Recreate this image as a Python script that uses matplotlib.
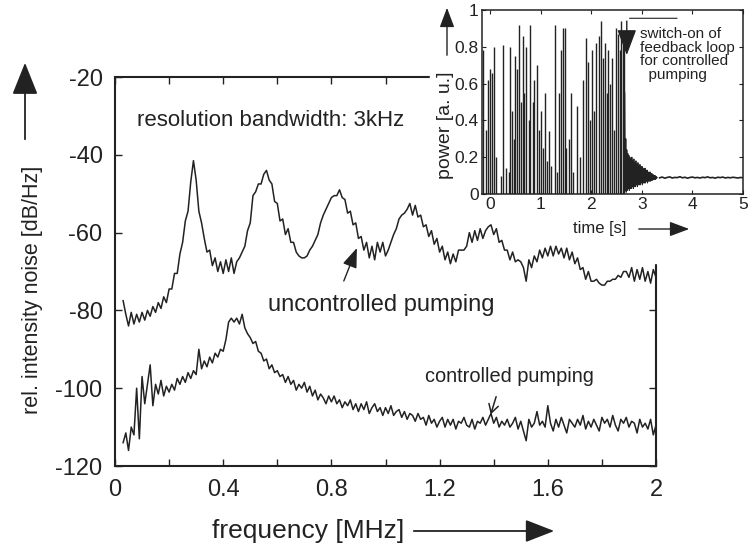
import numpy as np
import matplotlib
matplotlib.use("Agg")
import matplotlib.pyplot as plt
from matplotlib.patches import Rectangle, FancyArrowPatch

plt.rcParams['font.family'] = ['Liberation Sans', 'DejaVu Sans']
plt.rcParams['axes.unicode_minus'] = False

# ---- main spectrum, 10 kHz steps from 0.03 to 2.00 MHz
freq_mhz = np.round(np.arange(3, 201) / 100, 2)

uncontrolled_db = np.array([
    -77.5, -81, -84, -80.5, -83.5, -81, -83,                              # 0.03-0.09
    -80.5, -82.5, -80, -81.5, -79, -80.5, -78, -79.5, -76.5, -78,         # 0.10
    -74.5, -74.5, -70.5, -70.5, -65.5, -62.5, -57, -54.5, -47, -41.5,     # 0.20
    -46.5, -54.5, -57.5, -61.5, -65, -64.5, -68.5, -66.5, -70, -67.5,     # 0.30
    -70.5, -67, -70, -66.5, -70.5, -67.5, -66.5, -65, -63.5, -59.5,       # 0.40
    -57.5, -50.5, -49.5, -47.5, -47.5, -45, -44, -46.5, -47.5, -52,       # 0.50
    -52.5, -57, -56.5, -60.5, -59, -62.5, -62.5, -65, -66, -66.5,         # 0.60
    -66.5, -66, -64.5, -63.5, -62, -60.5, -57.5, -55.5, -54, -52.5,       # 0.70
    -51, -50.5, -50.5, -49, -51, -51.5, -55, -54.5, -58, -57.5,           # 0.80
    -61.5, -61, -64.5, -62.5, -66.5, -63.5, -67, -62.5, -65, -62.5,       # 0.90
    -66, -64.5, -62.5, -60.5, -59, -56.5, -55.5, -55, -54, -52.5,         # 1.00
    -55.5, -53, -56, -55.5, -58.5, -58, -61, -59.5, -63, -61.5,           # 1.10
    -65, -63.5, -67, -65, -68, -65.5, -67.5, -64.5, -64.5, -64.5,         # 1.20
    -63.5, -60, -62.5, -59.5, -62, -59, -61.5, -59.5, -58.5, -58,         # 1.30
    -60.5, -59, -62.5, -62, -64.5, -64.5, -67, -65, -67.5, -67,           # 1.40
    -67.5, -69, -72.5, -67, -69, -66, -67.5, -64.5, -66.5, -64,           # 1.50
    -66, -63.5, -66, -63.5, -65.5, -64, -66.5, -64, -67, -65,             # 1.60
    -68, -66.5, -69.5, -69, -72, -70, -72.5, -72.5, -72, -73,             # 1.70
    -73.5, -73.5, -72.5, -72.5, -72, -72, -71, -71.5, -70, -70,           # 1.80
    -71.5, -69, -72.5, -69.5, -72, -69, -72.5, -70, -73, -69.5,           # 1.90
    -71.5,                                                                # 2.00
])

controlled_db = np.array([
    -114, -111.5, -116, -110, -112, -100, -113,                           # 0.03-0.09
    -97, -104, -99, -94, -104.5, -99, -101.5, -98, -102, -99.5,           # 0.10
    -101, -99, -100.5, -97.5, -99, -97, -98.5, -96, -97.5, -95.5,         # 0.20
    -96.5, -90, -95, -93, -94.5, -92, -93.5, -91, -92, -90,               # 0.30
    -90.5, -87.5, -83, -82, -83, -82, -83.5, -81, -84.5, -86,             # 0.40
    -87, -88.5, -88, -90.5, -91, -93, -92.5, -95, -94, -96,               # 0.50
    -95.5, -97, -96.5, -98.5, -97, -99, -98, -100.5, -99, -100,           # 0.60
    -98.5, -101, -99.5, -102, -100.5, -103, -101.5, -102.5, -104, -102,   # 0.70
    -103.5, -102, -104, -103, -105, -103.5, -104.5, -103, -105.5, -104,   # 0.80
    -106, -104, -105.5, -103.5, -106.5, -105, -104, -106, -105, -107,     # 0.90
    -105, -106.5, -104.5, -107, -106, -105.5, -107.5, -106, -108, -106.5, # 1.00
    -107, -108.5, -106.5, -108, -107.5, -109.5, -107, -109, -108, -110,   # 1.10
    -108.5, -107.5, -110, -108, -109.5, -108, -110.5, -108.5, -109, -107.5,  # 1.20
    -109.5, -110, -108, -110.5, -108.5, -109, -107.5, -109.5, -108, -106.5,  # 1.30
    -109, -107.5, -110, -108.5, -109.5, -108, -110, -109, -107.5, -110.5,    # 1.40
    -108.5, -111, -113.5, -108, -110, -109, -106, -109.5, -108.5, -110,      # 1.50
    -104.5, -109, -111, -108, -110, -107.5, -109.5, -111.5, -108, -109,      # 1.60
    -110, -108, -109.5, -107, -110.5, -108.5, -110, -108, -109.5, -111,      # 1.70
    -107.5, -109, -108, -110, -107, -109.5, -111, -108, -109, -107.5,        # 1.80
    -110, -108.5, -109, -111.5, -108, -110, -109, -110.5, -108, -112,        # 1.90
    -109.5,                                                                  # 2.00
])

freq_ticks = [0, 0.2, 0.4, 0.6, 0.8, 1.0, 1.2, 1.4, 1.6, 1.8, 2.0]
freq_ticklabels = ['0', '', '0.4', '', '0.8', '', '1.2', '', '1.6', '', '2']
db_ticks = [-120, -100, -80, -60, -40, -20]
db_ticklabels = ['-120', '-100', '-80', '-60', '-40', '-20']

# ---- inset: output power before and after switching on the feedback loop
spike_t = [-0.14, -0.09, -0.04, 0.003, 0.03, 0.068, 0.12, 0.22, 0.25, 0.30,
           0.37, 0.39, 0.43, 0.46, 0.49, 0.52, 0.56, 0.61, 0.64, 0.67,
           0.71, 0.76, 0.78, 0.84, 0.87, 0.93, 0.97, 1.00, 1.04, 1.08,
           1.13, 1.17, 1.21, 1.28, 1.32, 1.36, 1.39, 1.43, 1.47, 1.50,
           1.55, 1.59, 1.63, 1.71, 1.78, 1.84, 1.89, 1.93, 1.97, 2.02,
           2.06, 2.10, 2.15, 2.19, 2.23, 2.26, 2.30, 2.33, 2.36, 2.41,
           2.45, 2.49, 2.53, 2.56, 2.59, 2.62, 2.64]
spike_power = [0.78, 0.35, 0.62, 0.68, 0.66, 0.80, 0.20, 0.10, 0.81, 0.14,
               0.12, 0.80, 0.45, 0.30, 0.75, 0.68, 0.92, 0.50, 0.86, 0.55,
               0.80, 0.40, 0.92, 0.50, 0.62, 0.70, 0.35, 0.45, 0.25, 0.55,
               0.18, 0.34, 0.15, 0.92, 0.12, 0.55, 0.78, 0.90, 0.90, 0.25,
               0.30, 0.55, 0.12, 0.48, 0.20, 0.62, 0.85, 0.72, 0.40, 0.78,
               0.45, 0.82, 0.86, 0.94, 0.74, 0.82, 0.55, 0.78, 0.60, 0.74,
               0.35, 0.90, 0.87, 0.78, 0.94, 0.88, 0.80]

settle_t = np.round(np.arange(266, 331) / 100, 2)
settle_power = [0.55, 0.02, 0.30, 0.01,
                0.24, 0.02, 0.22, 0.03, 0.21, 0.02, 0.20, 0.03, 0.19, 0.03,
                0.20, 0.04, 0.18, 0.03, 0.19, 0.04, 0.17, 0.04, 0.18, 0.05,
                0.16, 0.04, 0.17, 0.05, 0.15, 0.05, 0.16, 0.05, 0.14, 0.06,
                0.15, 0.05, 0.14, 0.06, 0.13, 0.06, 0.14, 0.06, 0.12, 0.07,
                0.13, 0.06, 0.12, 0.07, 0.11, 0.07, 0.12, 0.07, 0.11, 0.075,
                0.11, 0.075, 0.105, 0.08, 0.10, 0.08, 0.10, 0.08, 0.095, 0.085,
                0.09]

steady_t = np.round(np.arange(67, 101) * 0.05, 2)
steady_power = [0.088, 0.092, 0.086, 0.090, 0.093, 0.087, 0.090, 0.089, 0.094, 0.088,
                0.091, 0.086, 0.090, 0.092, 0.088, 0.090, 0.087, 0.091, 0.089, 0.093,
                0.088, 0.090, 0.086, 0.091, 0.089, 0.092, 0.087, 0.090, 0.088, 0.091,
                0.089, 0.087, 0.090, 0.088]

time_ticks = [0, 1, 2, 3, 4, 5]
power_ticks = [0, 0.2, 0.4, 0.6, 0.8, 1.0]
power_ticklabels = ['0', '0.2', '0.4', '0.6', '0.8', '1']

W, H = 749, 545


def fx(px):
    return px / W


def fy(py):
    # image rows counted from the top
    return 1 - py / H


def fig_arrow(p0, p1, head=(1.2, 0.45), lw=1.0):
    # arrow between two points given in image pixels
    fig.add_artist(FancyArrowPatch(
        (fx(p0[0]), fy(p0[1])), (fx(p1[0]), fy(p1[1])),
        transform=fig.transFigure, mutation_scale=10, lw=lw, color=ink,
        arrowstyle=f'-|>,head_length={head[0]},head_width={head[1]}',
        zorder=4))


fig = plt.figure(figsize=(7.49, 5.45), dpi=100)
ink = '#222222'

ax = fig.add_axes([fx(115), fy(466), fx(656 - 115), (466 - 77) / H])
ax.plot(freq_mhz, uncontrolled_db, color=ink, lw=1.1)
ax.plot(freq_mhz, controlled_db, color=ink, lw=1.1)
ax.set_xlim(0, 2)
ax.set_ylim(-120, -20)
ax.set_xticks(freq_ticks)
ax.set_xticklabels(freq_ticklabels)
ax.set_yticks(db_ticks)
ax.set_yticklabels(db_ticklabels)
ax.tick_params(direction='in', top=True, right=True, length=5, width=1,
               labelsize=17, pad=9, colors=ink)
for s in ax.spines.values():
    s.set_linewidth(1.5)
    s.set_color(ink)

ax.text(0.081, -31.3, 'resolution bandwidth: 3kHz', fontsize=16,
        ha='left', va='center', color=ink)
ax.text(0.566, -78.7, 'uncontrolled pumping', fontsize=17,
        ha='left', va='center', color=ink)
ax.annotate('', xy=(0.898, -63.3), xytext=(0.842, -73.1),
            arrowprops=dict(arrowstyle='-|>,head_length=1.2,head_width=0.45',
                            mutation_scale=10, lw=1, color=ink))
ax.text(1.146, -96.9, 'controlled pumping', fontsize=14.4,
        ha='left', va='center', color=ink)
ax.annotate('', xy=(1.386, -107.4), xytext=(1.412, -101.5),
            arrowprops=dict(arrowstyle='->,head_length=0.6,head_width=0.35',
                            mutation_scale=10, lw=1.1, color=ink))

# axis labels with long arrows, placed in image pixels
fig.text(fx(33), fy(290), 'rel. intensity noise [dB/Hz]', rotation=90,
         fontsize=15.5, ha='center', va='center', color=ink)
fig_arrow((25, 142), (25, 60), head=(2.0, 0.8), lw=1.3)
fig.text(fx(212), fy(531), 'frequency [MHz]', fontsize=19,
         ha='left', va='center', color=ink)
fig_arrow((411, 531), (557, 531), head=(1.8, 0.7), lw=1.3)

# white paper behind the pasted inset
fig.add_artist(Rectangle((fx(430), fy(194)), 1 - fx(430), fy(0) - fy(194),
                         transform=fig.transFigure, color='white', zorder=2))
fig.add_artist(Rectangle((fx(600), fy(263)), 1 - fx(600), fy(194) - fy(263),
                         transform=fig.transFigure, color='white', zorder=2))

axi = fig.add_axes([fx(481.5), fy(194), fx(743 - 481.5), (194 - 10) / H], zorder=3)
axi.vlines(spike_t, 0, spike_power, color=ink, lw=1.0)
axi.plot(settle_t, settle_power, color=ink, lw=0.8)
axi.plot(steady_t, steady_power, color=ink, lw=1.2)
axi.set_xlim(-0.175, 5)
axi.set_ylim(0, 1)
axi.set_xticks(time_ticks)
axi.set_yticks(power_ticks)
axi.set_yticklabels(power_ticklabels)
axi.tick_params(direction='in', top=True, right=True, length=3, width=0.8,
                labelsize=12.5, pad=2, colors=ink)
for s in axi.spines.values():
    s.set_linewidth(1.1)
    s.set_color(ink)

axi.text(2.97, 0.905, 'switch-on of\nfeedback loop\nfor controlled\n  pumping',
         fontsize=11, ha='left', va='top', linespacing=0.95, color=ink)
axi.annotate('', xy=(2.70, 0.955), xytext=(3.75, 0.955),
             arrowprops=dict(arrowstyle='-', lw=0.8, color=ink))
axi.annotate('', xy=(2.70, 0.74), xytext=(2.70, 0.955),
             arrowprops=dict(arrowstyle='-|>,head_length=1.6,head_width=0.6',
                             mutation_scale=10, lw=1.0, color=ink))

fig.text(fx(445), fy(125), 'power [a. u.]', rotation=90, fontsize=14,
         ha='center', va='center', color=ink, zorder=4)
fig_arrow((447, 58), (447, 5))
fig.text(fx(600), fy(229), 'time [s]', fontsize=12,
         ha='center', va='center', color=ink, zorder=4)
fig_arrow((636, 229), (692, 229))

fig.savefig('out.png', dpi=100)
